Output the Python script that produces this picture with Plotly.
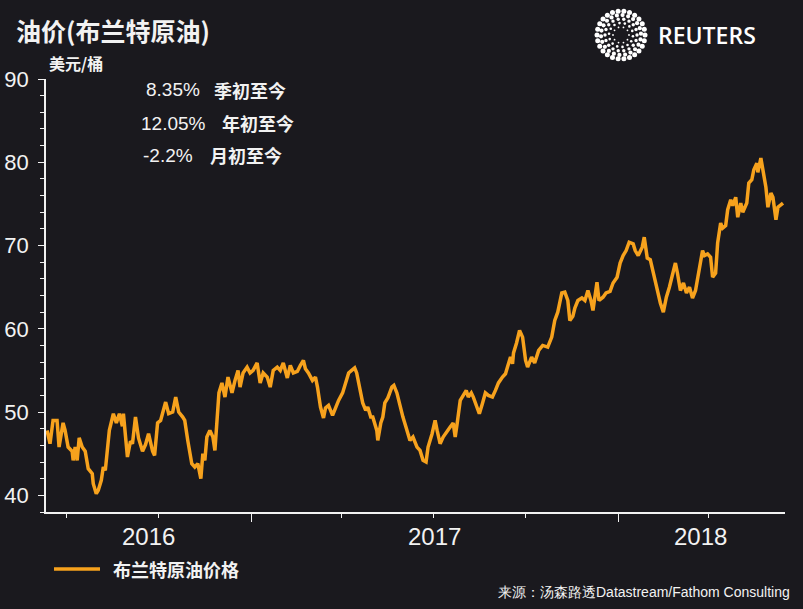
import math
import plotly.graph_objects as go

# Brent crude, USD per barrel
dates = [
    "2016-06-12", "2016-06-15", "2016-06-18", "2016-06-22", "2016-06-24", "2016-06-28", "2016-06-30",
    "2016-07-03", "2016-07-07", "2016-07-08", "2016-07-10", "2016-07-12", "2016-07-14", "2016-07-17",
    "2016-07-20", "2016-07-23", "2016-07-27", "2016-07-28", "2016-07-31", "2016-08-02", "2016-08-05",
    "2016-08-07", "2016-08-09", "2016-08-11", "2016-08-13", "2016-08-17", "2016-08-20", "2016-08-23",
    "2016-08-26", "2016-08-27", "2016-08-29", "2016-08-31", "2016-09-03", "2016-09-05", "2016-09-08",
    "2016-09-11", "2016-09-15", "2016-09-18", "2016-09-21", "2016-09-25", "2016-09-27", "2016-09-30",
    "2016-10-03", "2016-10-06", "2016-10-08", "2016-10-11", "2016-10-15", "2016-10-18", "2016-10-21",
    "2016-10-25", "2016-10-27", "2016-10-30", "2016-11-03", "2016-11-06", "2016-11-09", "2016-11-12",
    "2016-11-14", "2016-11-16", "2016-11-18", "2016-11-21", "2016-11-24", "2016-11-26", "2016-11-28",
    "2016-11-30", "2016-12-03", "2016-12-06", "2016-12-09", "2016-12-13", "2016-12-16", "2016-12-19",
    "2016-12-21", "2016-12-24", "2016-12-28", "2016-12-31", "2017-01-03", "2017-01-07", "2017-01-10",
    "2017-01-13", "2017-01-17", "2017-01-20", "2017-01-23", "2017-01-27", "2017-01-30", "2017-02-02",
    "2017-02-06", "2017-02-09", "2017-02-12", "2017-02-16", "2017-02-19", "2017-02-22", "2017-02-24",
    "2017-02-27", "2017-03-03", "2017-03-06", "2017-03-08", "2017-03-11", "2017-03-14", "2017-03-16",
    "2017-03-19", "2017-03-23", "2017-03-26", "2017-03-29", "2017-04-02", "2017-04-05", "2017-04-08",
    "2017-04-11", "2017-04-14", "2017-04-16", "2017-04-19", "2017-04-22", "2017-04-25", "2017-04-27",
    "2017-04-30", "2017-05-02", "2017-05-06", "2017-05-07", "2017-05-10", "2017-05-12", "2017-05-14",
    "2017-05-17", "2017-05-21", "2017-05-23", "2017-05-26", "2017-05-29", "2017-06-01", "2017-06-04",
    "2017-06-08", "2017-06-11", "2017-06-15", "2017-06-18", "2017-06-21", "2017-06-24", "2017-06-26",
    "2017-06-30", "2017-07-03", "2017-07-05", "2017-07-08", "2017-07-11", "2017-07-15", "2017-07-18",
    "2017-07-21", "2017-07-23", "2017-07-25", "2017-07-28", "2017-07-31", "2017-08-03", "2017-08-05",
    "2017-08-08", "2017-08-10", "2017-08-14", "2017-08-16", "2017-08-19", "2017-08-22", "2017-08-25",
    "2017-08-29", "2017-09-01", "2017-09-04", "2017-09-08", "2017-09-11", "2017-09-13", "2017-09-16",
    "2017-09-18", "2017-09-19", "2017-09-22", "2017-09-25", "2017-09-28", "2017-10-01", "2017-10-03",
    "2017-10-07", "2017-10-10", "2017-10-14", "2017-10-18", "2017-10-23", "2017-10-27", "2017-10-30",
    "2017-11-02", "2017-11-06", "2017-11-09", "2017-11-12", "2017-11-14", "2017-11-17", "2017-11-19",
    "2017-11-22", "2017-11-26", "2017-11-29", "2017-12-02", "2017-12-05", "2017-12-07", "2017-12-11",
    "2017-12-13", "2017-12-17", "2017-12-20", "2017-12-24", "2017-12-27", "2017-12-31", "2018-01-03",
    "2018-01-06", "2018-01-09", "2018-01-12", "2018-01-16", "2018-01-18", "2018-01-21", "2018-01-25",
    "2018-01-27", "2018-01-30", "2018-02-02", "2018-02-05", "2018-02-09", "2018-02-12", "2018-02-15",
    "2018-02-18", "2018-02-21", "2018-02-25", "2018-02-27", "2018-03-01", "2018-03-04", "2018-03-07",
    "2018-03-10", "2018-03-13", "2018-03-16", "2018-03-19", "2018-03-22", "2018-03-26", "2018-03-28",
    "2018-03-31", "2018-04-03", "2018-04-05", "2018-04-08", "2018-04-10", "2018-04-13", "2018-04-15",
    "2018-04-18", "2018-04-20", "2018-04-23", "2018-04-25", "2018-04-28", "2018-04-30", "2018-05-03",
    "2018-05-05", "2018-05-09", "2018-05-11", "2018-05-14", "2018-05-16", "2018-05-19", "2018-05-20",
    "2018-05-23", "2018-05-25", "2018-05-28", "2018-05-30", "2018-06-02", "2018-06-04", "2018-06-07",
    "2018-06-09", "2018-06-11", "2018-06-14",
]
prices = [
    47.8, 46.2, 49.0, 49.0, 45.8, 48.7, 47.8,
    45.8, 45.3, 44.2, 45.8, 44.2, 46.9, 45.8,
    45.3, 43.2, 42.6, 41.4, 40.2, 40.6, 41.8,
    43.4, 43.0, 45.8, 47.8, 49.8, 48.7, 49.8,
    48.3, 49.8, 46.9, 44.6, 46.5, 46.2, 49.4,
    46.9, 45.3, 46.1, 47.4, 45.3, 44.8, 48.7,
    49.0, 50.2, 51.2, 49.8, 50.0, 51.8, 50.0,
    49.4, 49.0, 46.6, 43.8, 43.4, 43.8, 42.0,
    45.0, 44.2, 47.0, 47.8, 47.0, 45.4, 49.0,
    52.3, 53.5, 51.8, 54.2, 52.3, 53.8, 55.0,
    53.0, 54.7, 55.4, 54.7, 55.0, 55.9, 53.5,
    54.7, 54.2, 53.0, 55.0, 55.4, 55.0, 55.9,
    54.1, 55.6, 54.7, 54.9, 55.6, 56.2, 55.2,
    54.7, 53.8, 54.2, 53.0, 50.6, 49.3, 50.5,
    50.8, 49.6, 50.5, 51.4, 52.3, 53.5, 54.7,
    55.0, 55.3, 54.7, 52.6, 51.1, 50.2, 50.6,
    49.4, 49.4, 47.8, 46.6, 48.7, 49.4, 51.1,
    51.7, 53.0, 53.2, 52.3, 50.6, 49.4, 48.2,
    46.6, 47.0, 45.8, 45.4, 44.2, 44.0, 45.8,
    47.4, 49.0, 47.8, 46.2, 47.0, 47.8, 48.2,
    48.7, 47.0, 48.7, 51.4, 52.0, 52.6, 51.8,
    52.3, 51.8, 50.6, 49.8, 51.0, 52.3, 52.0,
    51.8, 52.6, 53.5, 54.2, 54.6, 55.4, 56.6,
    55.8, 57.1, 58.3, 59.8, 59.0, 56.2, 55.4,
    56.6, 55.9, 57.4, 58.0, 57.8, 59.0, 61.0,
    62.0, 64.3, 64.4, 63.4, 61.0, 61.5, 62.5,
    63.4, 63.7, 63.4, 64.6, 63.4, 62.2, 65.6,
    63.4, 63.8, 64.3, 64.5, 65.5, 66.2, 67.9,
    68.8, 69.4, 70.4, 70.2, 69.4, 68.8, 69.8,
    71.0, 68.5, 68.3, 66.7, 64.5, 63.1, 62.0,
    63.8, 65.0, 66.7, 67.9, 66.7, 64.6, 65.5,
    64.3, 65.0, 63.7, 64.6, 66.7, 69.4, 68.8,
    69.0, 68.6, 66.2, 66.7, 70.3, 72.7, 72.1,
    72.4, 74.3, 75.5, 74.8, 75.8, 73.4, 75.1,
    74.0, 75.1, 77.5, 77.9, 79.1, 79.9, 78.8,
    80.5, 79.1, 77.0, 74.6, 76.3, 75.8, 73.1,
    74.6, 74.8, 75.1,
]

series_name = "布兰特原油价格"
year_labels = ["2016", "2017", "2018"]
year_label_dates = ["2016-09-21", "2017-07-02", "2018-03-24"]

stat_values = ["8.35%", "12.05%", "-2.2%"]
stat_names = ["季初至今", "年初至今", "月初至今"]

BG = "#1a191e"
ORANGE = "#f7a21d"
WHITE = "#f2f2f2"
CJK = "Noto Sans CJK SC, Noto Sans, sans-serif"
NUM = "Liberation Sans, Arial, sans-serif"

# plot area in pixels
L, R, T, B = 46, 785, 79, 512
W, H = R - L, B - T


def px(x):
    return (x - L) / W


def py(y):
    return (B - y) / H


fig = go.Figure()
fig.add_trace(go.Scatter(
    x=dates, y=prices, mode="lines", name=series_name,
    line=dict(color=ORANGE, width=3.5), showlegend=False,
))

annotations = []
for lbl, d in zip(year_labels, year_label_dates):
    annotations.append(dict(
        x=d, xref="x", y=py(536), yref="paper", text=lbl, showarrow=False,
        font=dict(family=NUM, size=24, color=WHITE), xanchor="center", yanchor="middle",
    ))

stat_rows = [(202, 212, 90), (208, 220, 123), (195, 208, 155)]
for (xr, xl, yc), val, name in zip(stat_rows, stat_values, stat_names):
    annotations.append(dict(
        x=px(xr), y=py(yc), xref="paper", yref="paper", text=val, showarrow=False,
        font=dict(family=NUM, size=19, color=WHITE), xanchor="right", yanchor="middle",
    ))
    annotations.append(dict(
        x=px(xl), y=py(yc), xref="paper", yref="paper", text="<b>" + name + "</b>", showarrow=False,
        font=dict(family=CJK, size=18, color=WHITE), xanchor="left", yanchor="middle",
    ))

annotations += [
    dict(x=px(47), y=py(63), xref="paper", yref="paper", text="<b>美元/桶</b>", showarrow=False,
         font=dict(family=CJK, size=16, color=WHITE), xanchor="left", yanchor="middle"),
    # hand-made legend entry
    dict(x=px(111), y=py(569), xref="paper", yref="paper", text="<b>" + series_name + "</b>",
         showarrow=False, font=dict(family=CJK, size=18, color=WHITE), xanchor="left", yanchor="middle"),
    dict(x=px(792), y=py(592), xref="paper", yref="paper",
         text="来源：汤森路透Datastream/Fathom Consulting", showarrow=False,
         font=dict(family=NUM, size=14, color=WHITE), xanchor="right", yanchor="middle"),
    dict(x=px(656), y=py(35), xref="paper", yref="paper", text="REUTERS", showarrow=False,
         font=dict(family="Open Sans, sans-serif", size=23, color="white", weight=600),
         xanchor="left", yanchor="middle"),
]

shapes = [dict(type="line", xref="paper", yref="paper", x0=px(54), x1=px(100), y0=py(569), y1=py(569),
               line=dict(color=ORANGE, width=3.5))]

# Reuters dotted-circle logo
cx, cy = px(621), py(35)
for radius, dot, count in [(8, 0.9, 10), (12, 1.3, 14), (16, 1.7, 18), (20, 2.1, 22), (24, 2.5, 26)]:
    for k in range(count):
        a = 2 * math.pi * k / count + 0.35 * (radius % 8 / 4)
        dx, dy = radius * math.cos(a), radius * math.sin(a)
        shapes.append(dict(
            type="circle", xref="paper", yref="paper", xsizemode="pixel", ysizemode="pixel",
            xanchor=cx, yanchor=cy, x0=dx - dot, x1=dx + dot, y0=dy - dot, y1=dy + dot,
            fillcolor="white", line=dict(width=0),
        ))

fig.update_layout(
    width=803, height=609,
    paper_bgcolor=BG, plot_bgcolor=BG,
    margin=dict(l=L, r=803 - R, t=T, b=609 - B, autoexpand=False),
    title=dict(text="<b>油价(布兰特原油)</b>", x=16 / 803, xref="container", xanchor="left",
               y=1 - 32 / 609, yref="container", yanchor="middle",
               font=dict(family=CJK, size=25, color=WHITE)),
    showlegend=False,
    annotations=annotations,
    shapes=shapes,
    xaxis=dict(
        type="date", range=["2016-06-11", "2018-06-16"], automargin=False,
        showgrid=False, zeroline=False, showline=True, linecolor=WHITE, linewidth=2,
        tick0="2016-01-01", dtick="M12", ticks="outside", ticklen=8, tickcolor=WHITE,
        showticklabels=False,
        minor=dict(dtick="M3", tick0="2016-01-01", ticks="outside", ticklen=4, tickcolor=WHITE, showgrid=False),
    ),
    yaxis=dict(
        range=[38, 90], tickvals=[40, 50, 60, 70, 80, 90], automargin=False,
        showgrid=False, zeroline=False, showline=True, linecolor=WHITE, linewidth=1.5,
        ticks="outside", ticklen=6, tickcolor=WHITE,
        tickfont=dict(family=NUM, size=22, color=WHITE), ticklabelstandoff=5,
        minor=dict(dtick=2, ticks="outside", ticklen=4, tickcolor=WHITE, showgrid=False),
    ),
)

# drop the browser's default page margin so the figure sits at the window corner
fig.write_html(
    "out.html",
    config={"displayModeBar": False},
    post_script="document.body.style.margin='0';document.body.style.background='%s';" % BG,
)
